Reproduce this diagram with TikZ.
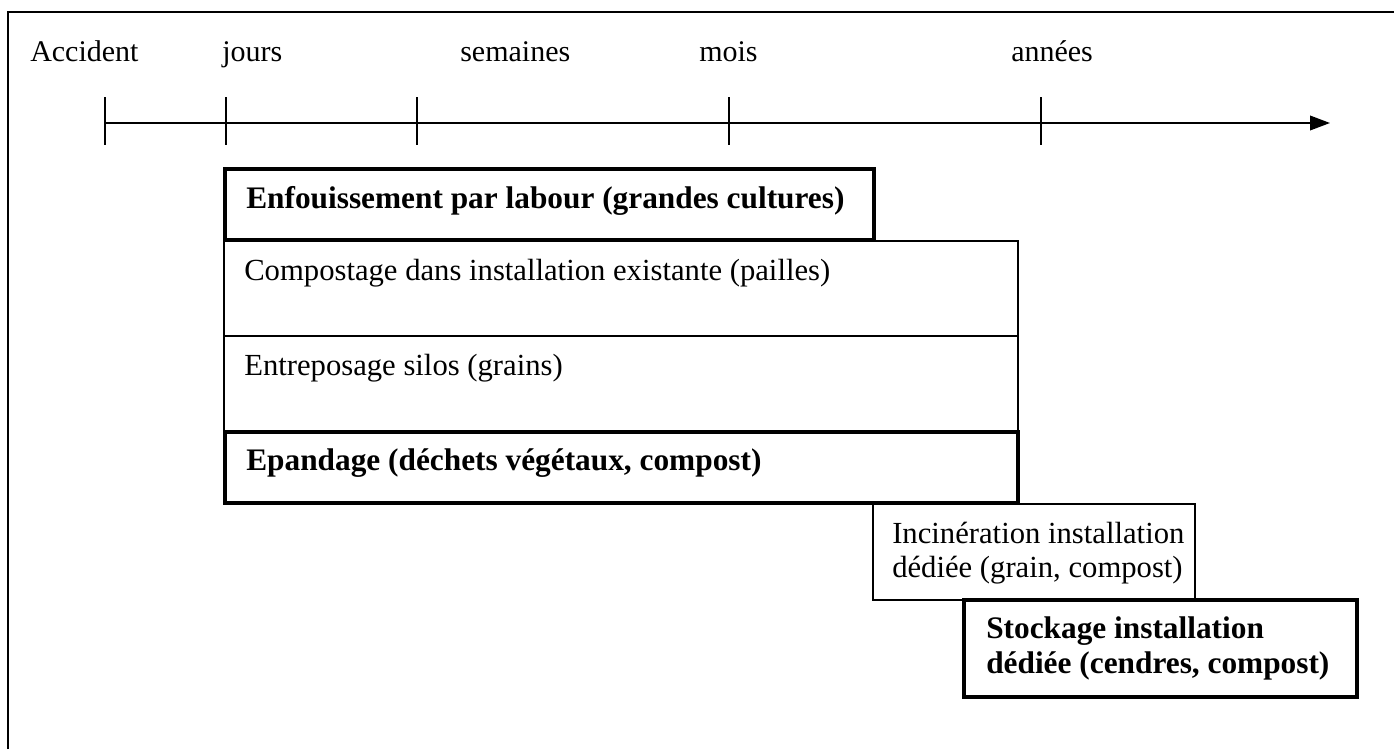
\documentclass[tikz,border=0pt]{standalone}
\usepackage{fontspec}
\setmainfont{Liberation Serif}
\usetikzlibrary{arrows.meta}
\begin{document}
\begin{tikzpicture}[x=0.75pt,y=-0.75pt,
  frame/.style={line width=1.6pt},
  axisline/.style={line width=1.2pt},
  tickline/.style={line width=1.1pt},
  thinbox/.style={draw,line width=1.4pt},
  thickbox/.style={draw,line width=2.6pt},
  period/.style={anchor=base west,inner sep=0pt,font=\fontsize{22.5}{26}\selectfont},
  plain/.style={anchor=base west,inner sep=0pt,font=\fontsize{23}{25.5}\selectfont,align=left},
  strong/.style={anchor=base west,inner sep=0pt,font=\fontsize{23.5}{26}\selectfont\bfseries,align=left}]
\useasboundingbox (0,0) rectangle (1394,749);

% frame of the figure (open to the right and bottom)
\draw[frame] (8,749) -- (8,12) -- (1394,12);

% time axis
\coordinate (t0) at (105,123);
\coordinate (t1) at (226,123);
\coordinate (t2) at (417,123);
\coordinate (t3) at (729,123);
\coordinate (t4) at (1041,123);
\coordinate (tend) at (1330,123);
\draw[axisline,-{Triangle[length=15pt,width=11pt]}] (t0) -- (tend);
\foreach \t in {t0,t1,t2,t3,t4}
  \draw[tickline] ([yshift=26*0.75pt]\t) -- ([yshift=-22*0.75pt]\t);

\node[period] (lacc) at (30,62) {Accident};
\node[period] (ljou) at (222,62) {jours};
\node[period] (lsem) at (460,62) {semaines};
\node[period] (lmoi) at (699,62) {mois};
\node[period] (lann) at (1011,62) {années};

% thin boxes
\draw[thinbox] (224,241) rectangle (1018,336);
\draw[thinbox] (224,336) rectangle (1018,432);
\draw[thinbox] (873,504) rectangle (1195,600);

% thick boxes
\draw[thickbox] (225,169) rectangle (874,240);
\draw[thickbox] (225,432) rectangle (1018,503);
\draw[thickbox] (964,600) rectangle (1357,697);

% box labels (two-line labels are placed by the baseline of their last line)
\node[strong] (enf) at (246,208) {Enfouissement par labour (grandes cultures)};
\node[plain] (comp) at (244,280) {Compostage dans installation existante (pailles)};
\node[plain] (entr) at (244,375) {Entreposage silos (grains)};
\node[strong] (epan) at (246,470) {Epandage (déchets végétaux, compost)};
\node[plain] (inci) at (892,577) {Incinération installation\\dédiée (grain, compost)};
\node[strong] (stoc) at (986,673) {Stockage installation\\dédiée (cendres, compost)};
\end{tikzpicture}
\end{document}
